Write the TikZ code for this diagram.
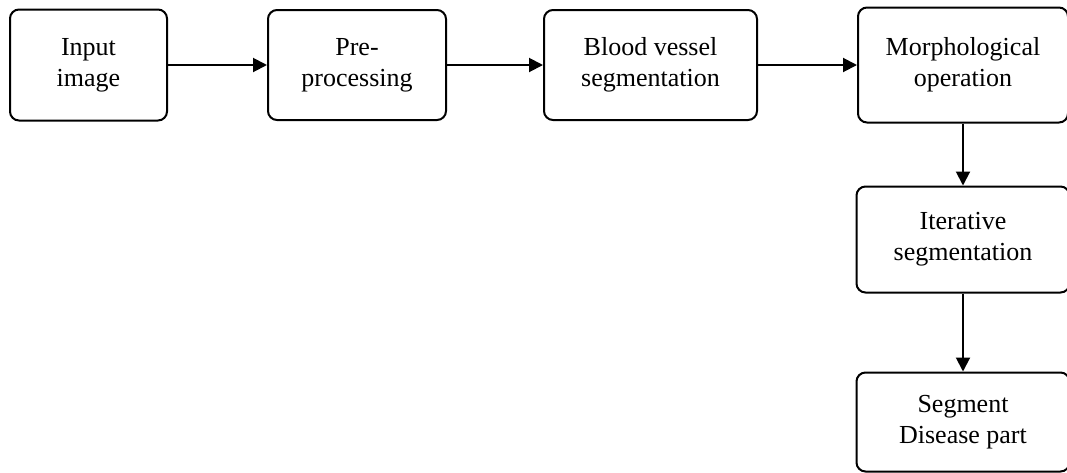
\documentclass[tikz,border=0pt]{standalone}
\usepackage{fontspec}
\setmainfont{Liberation Serif}
\usepackage{tikz}
\usetikzlibrary{
        arrows.meta,
        positioning,
        shapes
    }
\tikzset{>={Triangle[length=7pt,width=7pt]},auto,node distance=49.5pt}
\tikzset{block/.style={draw,line width=1pt,rounded corners=4.5pt,align=center,
        font=\fontsize{13}{15.5}\selectfont,inner sep=2pt}}

\begin{document}
\begin{tikzpicture}[line width=1pt]
                    \useasboundingbox (0,0) rectangle (533.5pt,-236pt);
                        \node[block,minimum width=78.5pt,minimum height=55.5pt] (inp) at (44.25pt,-32.5pt) {Input\\image};
                        \node[block,minimum width=89pt,minimum height=55pt] (pre) [right=of inp] {Pre-\\processing};
                        \node[block,minimum width=106.5pt,minimum height=55pt] (ves) [right=48pt of pre] {Blood vessel\\segmentation};
                        \node[block,minimum width=105pt,minimum height=57.5pt] (mor) [right=of ves] {Morphological\\operation};
                        \node[block,minimum width=106.5pt,minimum height=53pt] (ite) [below=31pt of mor] {Iterative\\segmentation};
                        \node[block,minimum width=106.5pt,minimum height=49.5pt] (dis) [below=39pt of ite] {Segment\\Disease part};
                    \path[->]
                            (inp)  edge  (pre)
                            (pre)  edge  (ves)
                            (ves)  edge  (mor)
                            (mor)  edge  (ite)
                            (ite)  edge  (dis)
                            ;
            \end{tikzpicture}
\end{document}
